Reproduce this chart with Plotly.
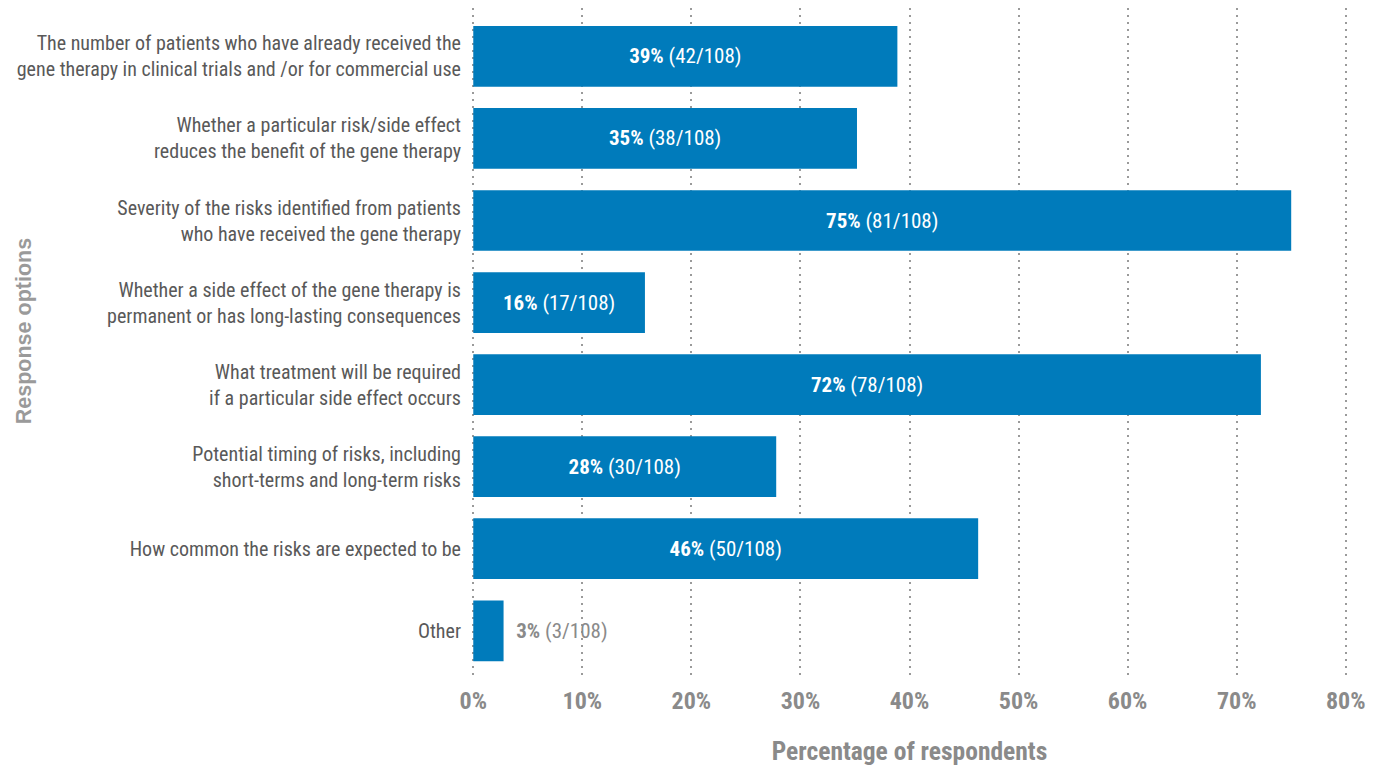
import plotly.graph_objects as go

# Survey responses, listed top to bottom
options = [
    "The number of patients who have already received the<br>gene therapy in clinical trials and /or for commercial use",
    "Whether a particular risk/side effect<br>reduces the benefit of the gene therapy",
    "Severity of the risks identified from patients<br>who have received the gene therapy",
    "Whether a side effect of the gene therapy is<br>permanent or has long-lasting consequences",
    "What treatment will be required<br>if a particular side effect occurs",
    "Potential timing of risks, including<br>short-terms and long-term risks",
    "How common the risks are expected to be",
    "Other",
]
counts = [42, 38, 81, 17, 78, 30, 50, 3]
total = 108
tick_values = [0, 10, 20, 30, 40, 50, 60, 70, 80]
tick_labels = ["0%", "10%", "20%", "30%", "40%", "50%", "60%", "70%", "80%"]

FONT = "Liberation Sans Narrow, Arial Narrow, Roboto Condensed, Liberation Sans, sans-serif"
BAR = "#007bbb"
GREY = "#8a8a8a"

pct = [c / total * 100 for c in counts]
inside = [p > 10 for p in pct]
labels = [
    (f"<b>{round(p)}%</b> ({c}/{total})" if ins else f"\u00a0\u00a0<b>{round(p)}%</b> ({c}/{total})")
    for p, c, ins in zip(pct, counts, inside)
]
positions = ["inside" if ins else "outside" for ins in inside]
text_colors = ["white" if ins else GREY for ins in inside]

fig = go.Figure(
    go.Bar(
        x=pct,
        y=options,
        orientation="h",
        width=0.74,
        marker=dict(color=BAR, line=dict(width=0)),
        text=labels,
        textposition=positions,
        insidetextanchor="middle",
        textfont=dict(family=FONT, size=21, color=text_colors),
        cliponaxis=False,
        hoverinfo="skip",
    )
)

fig.update_layout(
    width=1382,
    height=768,
    margin=dict(l=470, r=33, t=8, b=88),
    paper_bgcolor="white",
    plot_bgcolor="white",
    showlegend=False,
    font=dict(family=FONT, color="#555555"),
    annotations=[
        dict(
            text="<b>Response options</b>",
            xref="paper", yref="paper",
            x=(24 - 470) / 879, y=0.519,
            xanchor="center", yanchor="middle",
            textangle=-90,
            showarrow=False,
            font=dict(family="Liberation Sans, Arial, sans-serif", size=21.5, color="#9a9a9a"),
        )
    ],
)

fig.update_xaxes(
    range=[-0.3, 80.3],
    tickvals=tick_values,
    ticktext=tick_labels,
    tickfont=dict(family=FONT, size=24, color=GREY, weight="bold"),
    ticks="",
    ticklabelstandoff=4,
    showline=False,
    zeroline=False,
    showgrid=True,
    gridcolor="#9a9a9a",
    gridwidth=2,
    griddash="2px,5px",
    title=dict(
        text="<b>Percentage of respondents</b>",
        font=dict(family=FONT, size=25.5, color=GREY),
        standoff=28,
    ),
)

fig.update_yaxes(
    type="category",
    categoryorder="array",
    categoryarray=options,
    range=[7.6, -0.59],
    tickfont=dict(family=FONT, size=20, color="#595959"),
    ticks="",
    ticklabelstandoff=8,
    showgrid=False,
    showline=False,
    zeroline=False,
)

fig.write_html("out.html")
